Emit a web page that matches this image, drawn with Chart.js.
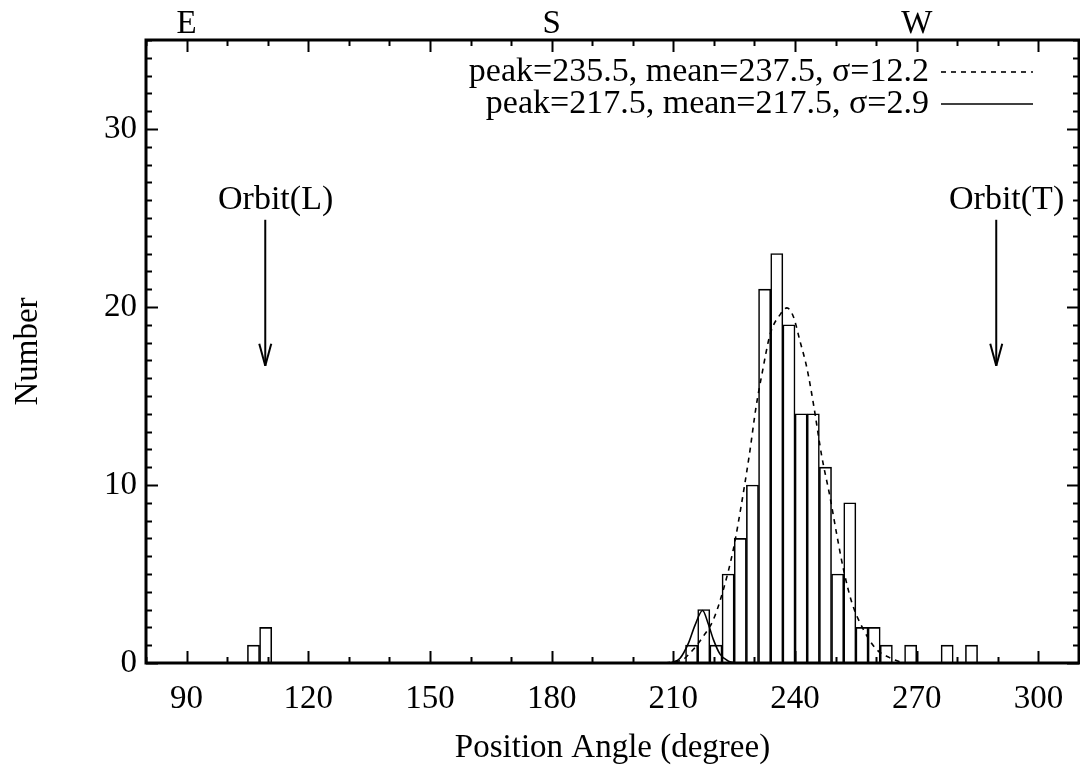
<!DOCTYPE html>
<html>
<head>
<meta charset="utf-8">
<script src="https://cdn.jsdelivr.net/npm/chart.js@4/dist/chart.umd.min.js"></script>
<style>
  html, body { margin: 0; padding: 0; background: #fff; }
  #wrap { width: 1080px; height: 776px; position: relative; }
</style>
</head>
<body>
<div id="wrap"><canvas id="myChart"></canvas></div>
<script>
// histogram, 3 degree bins (centres)
const binCenters = [106.5, 109.5, 214.5, 217.5, 220.5, 223.5, 226.5, 229.5, 232.5, 235.5, 238.5,
  241.5, 244.5, 247.5, 250.5, 253.5, 256.5, 259.5, 262.5, 268.5, 277.5, 283.5];
const binCounts = [1, 2, 1, 3, 1, 5, 7, 10, 21, 23, 19, 14, 14, 11, 5, 9, 2, 2, 1, 1, 1, 1];

// fitted curves
const wideFitX = [208, 210.5, 212.4, 214.9, 217.4, 219.8, 222.3, 224.8, 226.7, 228.8, 230.4, 231.9,
  233.9, 236.4, 238.0, 239.6, 241.2, 242.9, 244.5, 246.6, 248.6, 250.3, 251.9, 254.0, 256.8, 260.1, 263.3, 266];
const wideFitY = [0, 0.08, 0.2, 0.76, 1.5, 2.4, 4.1, 6.4, 8.8, 11.8, 14.4, 16.3,
  18.5, 19.6, 19.95, 19.45, 18.1, 16.6, 14.6, 11.6, 9.35, 7.2, 5.3, 3.4, 1.9, 0.76, 0.3, 0.05];
const narrowFitX = [209.5, 211.6, 213.7, 215.3, 217.2, 218.6, 219.9, 221.5, 223.6, 225.5];
const narrowFitY = [0.02, 0.25, 1.1, 2.1, 2.95, 2.2, 1.3, 0.5, 0.1, 0.01];

const wideLabel = "peak=235.5, mean=237.5, \u03c3=12.2";
const narrowLabel = "peak=217.5, mean=217.5, \u03c3=2.9";

// top axis compass labels
const compassLabels = { 90: "E", 180: "S", 270: "W" };

// orbit markers
const orbitNames = ["Orbit(L)", "Orbit(T)"];
const orbitAngles = [109.4, 289.6];
const arrowFrom = 24.9;
const arrowTo = 16.7;
const orbitTextY = 26.0;

const FONT = "Liberation Serif";
Chart.defaults.font.family = FONT;
Chart.defaults.font.size = 33;
Chart.defaults.color = "#000";

const toXY = (xs, ys) => xs.map((x, i) => ({ x: x, y: ys[i] }));

const isMajorX = v => (v - 90) % 30 === 0;
const isMajorY = v => v % 10 === 0;

// no side padding from tick labels, the frame goes edge to edge
const fixWidth = s => { s.paddingLeft = 0; s.paddingRight = 0; };

const framePlugin = {
  id: "framePlugin",
  afterDraw(chart) {
    const { ctx, chartArea: a, scales } = chart;
    const line = (x1, y1, x2, y2) => { ctx.beginPath(); ctx.moveTo(x1, y1); ctx.lineTo(x2, y2); ctx.stroke(); };
    ctx.save();
    ctx.strokeStyle = "#000";
    ctx.lineWidth = 2;
    // inward ticks
    scales.x.ticks.forEach(t => {
      const px = Math.round(scales.x.getPixelForValue(t.value)) + 0.5;
      const len = isMajorX(t.value) ? 12 : 6;
      line(px, a.bottom, px, a.bottom - len);
      line(px, a.top, px, a.top + len);
    });
    scales.y.ticks.forEach(t => {
      const py = Math.round(scales.y.getPixelForValue(t.value)) + 0.5;
      const len = isMajorY(t.value) ? 12 : 6;
      line(a.left, py, a.left + len, py);
      line(a.right, py, a.right - len, py);
    });
    // frame
    ctx.lineWidth = 3;
    ctx.strokeRect(a.left, a.top, a.right - a.left, a.bottom - a.top);

    // orbit arrows
    ctx.lineWidth = 2;
    ctx.font = "34px " + FONT;
    ctx.fillStyle = "#000";
    ctx.textBaseline = "middle";
    orbitNames.forEach((name, i) => {
      const px = scales.x.getPixelForValue(orbitAngles[i]);
      const y1 = scales.y.getPixelForValue(arrowFrom);
      const y2 = scales.y.getPixelForValue(arrowTo);
      line(px, y1, px, y2);
      line(px - 6, y2 - 22, px, y2);
      line(px + 6, y2 - 22, px, y2);
      const w = ctx.measureText(name).width;
      ctx.textAlign = "left";
      ctx.fillText(name, px - 0.41 * w, scales.y.getPixelForValue(orbitTextY));
    });

    // key, top right
    ctx.font = "34px " + FONT;
    ctx.textAlign = "right";
    const keyRows = [chart.data.datasets[0], chart.data.datasets[1]];
    keyRows.forEach((ds, i) => {
      const y = 72 + i * 32;
      ctx.fillText(ds.label, 929, y);
      ctx.lineWidth = 1.6;
      ctx.setLineDash(ds.borderDash || []);
      line(941, y, 1033, y);
      ctx.setLineDash([]);
    });
    ctx.restore();
  }
};

new Chart(document.getElementById("myChart"), {
  data: {
    datasets: [
      {
        type: "line", label: wideLabel, data: toXY(wideFitX, wideFitY),
        borderColor: "#000", borderWidth: 1.6, borderDash: [5, 5], pointRadius: 0,
        cubicInterpolationMode: "monotone", fill: false, order: 0
      },
      {
        type: "line", label: narrowLabel, data: toXY(narrowFitX, narrowFitY),
        borderColor: "#000", borderWidth: 1.6, pointRadius: 0,
        cubicInterpolationMode: "monotone", fill: false, order: 0
      },
      {
        type: "bar", label: "counts", data: toXY(binCenters, binCounts),
        backgroundColor: "#fff", borderColor: "#000", borderWidth: 1.6,
        barPercentage: 1, categoryPercentage: 1, order: 1
      }
    ]
  },
  options: {
    responsive: true,
    maintainAspectRatio: false,
    animation: false,
    layout: { padding: { left: 0, right: 1, top: 0, bottom: 0 } },
    plugins: { legend: { display: false }, tooltip: { enabled: false } },
    scales: {
      x: {
        type: "linear", position: "bottom", min: 80, max: 310, offset: false,
        grid: { display: false, drawTicks: false }, border: { display: false },
        ticks: { stepSize: 10, autoSkip: false, maxRotation: 0, padding: 17,
          callback: v => isMajorX(v) ? String(v) : "" },
        title: { display: true, text: "Position Angle (degree)", font: { size: 33 }, padding: { top: 0, bottom: 8 } },
        afterFit: s => { s.height = 113; fixWidth(s); }
      },
      x2: {
        type: "linear", position: "top", min: 80, max: 310, offset: false,
        grid: { display: false, drawTicks: false }, border: { display: false },
        ticks: { stepSize: 10, autoSkip: false, maxRotation: 0, padding: -4,
          callback: v => compassLabels[v] || "" },
        afterFit: s => { s.height = 40; fixWidth(s); }
      },
      y: {
        type: "linear", min: 0, max: 35,
        grid: { display: false, drawTicks: false }, border: { display: false },
        ticks: { stepSize: 1, autoSkip: false, padding: 9,
          callback: v => isMajorY(v) ? String(v) : "" },
        title: { display: true, text: "Number", font: { size: 33 }, padding: { top: 9, bottom: 0 } },
        afterFit: s => { s.width = 146; }
      }
    }
  },
  plugins: [framePlugin]
});
</script>
</body>
</html>
